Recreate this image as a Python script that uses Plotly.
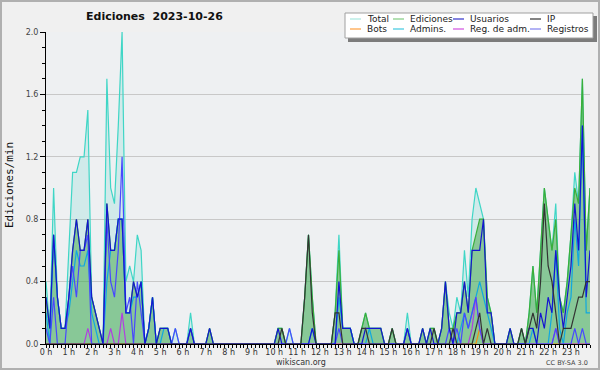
import plotly.graph_objects as go

# 10-minute slots of the day (0..143); every 6th slot is an hour mark
slots = list(range(144))
hour_slots = list(range(0, 144, 6))
hour_labels = [f"{h} h" for h in range(24)]
y_ticks = [0.0, 0.4, 0.8, 1.2, 1.6, 2.0]
y_labels = ["0.0", "0.4", "0.8", "1.2", "1.6", "2.0"]

total = [
    0.4, 0.1, 1.0, 0.3, 0.1, 0.1, 0.6, 1.1, 1.1, 1.2, 1.2, 1.5,
    0.3, 0.2, 0.1, 0.0, 1.7, 1.0, 0.9, 1.4, 2.0, 0.4, 0.5, 0.4,
    0.7, 0.6, 0.0, 0.1, 0.3, 0.0, 0.1, 0.1, 0.1, 0.0, 0.1, 0.0,
    0.0, 0.0, 0.2, 0.0, 0.0, 0.0, 0.0, 0.1, 0.0, 0.0, 0.0, 0.0,
    0.0, 0.0, 0.0, 0.0, 0.0, 0.0, 0.0, 0.0, 0.0, 0.0, 0.0, 0.0,
    0.0, 0.1, 0.1, 0.0, 0.1, 0.0, 0.0, 0.0, 0.3, 0.7, 0.3, 0.0,
    0.0, 0.0, 0.0, 0.0, 0.2, 0.7, 0.1, 0.1, 0.1, 0.0, 0.0, 0.1,
    0.2, 0.1, 0.1, 0.1, 0.1, 0.0, 0.0, 0.1, 0.0, 0.0, 0.0, 0.2,
    0.0, 0.0, 0.0, 0.1, 0.0, 0.1, 0.1, 0.0, 0.1, 0.4, 0.2, 0.1,
    0.3, 0.2, 0.6, 0.3, 0.8, 1.0, 0.9, 0.8, 0.3, 0.2, 0.0, 0.0,
    0.0, 0.0, 0.1, 0.0, 0.0, 0.1, 0.0, 0.2, 0.5, 0.2, 0.6, 1.0,
    0.8, 0.6, 0.9, 0.3, 0.2, 0.4, 0.7, 1.1, 0.9, 1.7, 0.6, 1.0,
]
ediciones = [
    0.3, 0.1, 0.7, 0.3, 0.1, 0.1, 0.3, 0.6, 0.8, 0.6, 0.6, 0.8,
    0.3, 0.2, 0.1, 0.0, 0.9, 0.6, 0.6, 0.8, 0.8, 0.2, 0.2, 0.4,
    0.3, 0.4, 0.0, 0.1, 0.3, 0.0, 0.1, 0.1, 0.1, 0.0, 0.0, 0.0,
    0.0, 0.0, 0.1, 0.0, 0.0, 0.0, 0.0, 0.1, 0.0, 0.0, 0.0, 0.0,
    0.0, 0.0, 0.0, 0.0, 0.0, 0.0, 0.0, 0.0, 0.0, 0.0, 0.0, 0.0,
    0.0, 0.1, 0.1, 0.0, 0.0, 0.0, 0.0, 0.0, 0.3, 0.7, 0.3, 0.0,
    0.0, 0.0, 0.0, 0.0, 0.2, 0.6, 0.1, 0.1, 0.1, 0.0, 0.0, 0.1,
    0.2, 0.1, 0.1, 0.1, 0.1, 0.0, 0.0, 0.1, 0.0, 0.0, 0.0, 0.1,
    0.0, 0.0, 0.0, 0.1, 0.0, 0.1, 0.1, 0.0, 0.1, 0.4, 0.1, 0.1,
    0.2, 0.2, 0.4, 0.2, 0.6, 0.7, 0.8, 0.8, 0.3, 0.2, 0.0, 0.0,
    0.0, 0.0, 0.1, 0.0, 0.0, 0.1, 0.0, 0.2, 0.5, 0.2, 0.6, 1.0,
    0.8, 0.6, 0.8, 0.3, 0.2, 0.4, 0.7, 1.0, 0.9, 1.7, 0.6, 1.0,
]
usuarios = [
    0.3, 0.1, 0.7, 0.3, 0.1, 0.1, 0.3, 0.6, 0.8, 0.6, 0.6, 0.8,
    0.3, 0.2, 0.1, 0.0, 0.9, 0.6, 0.6, 0.8, 0.8, 0.2, 0.2, 0.4,
    0.3, 0.4, 0.0, 0.1, 0.3, 0.0, 0.1, 0.1, 0.1, 0.0, 0.0, 0.0,
    0.0, 0.0, 0.1, 0.0, 0.0, 0.0, 0.0, 0.1, 0.0, 0.0, 0.0, 0.0,
    0.0, 0.0, 0.0, 0.0, 0.0, 0.0, 0.0, 0.0, 0.0, 0.0, 0.0, 0.0,
    0.0, 0.1, 0.0, 0.0, 0.0, 0.0, 0.0, 0.0, 0.0, 0.0, 0.1, 0.0,
    0.0, 0.0, 0.0, 0.0, 0.0, 0.4, 0.1, 0.1, 0.1, 0.0, 0.0, 0.0,
    0.1, 0.1, 0.1, 0.1, 0.1, 0.0, 0.0, 0.0, 0.0, 0.0, 0.0, 0.1,
    0.0, 0.0, 0.0, 0.1, 0.0, 0.1, 0.0, 0.0, 0.1, 0.4, 0.1, 0.0,
    0.2, 0.2, 0.4, 0.2, 0.6, 0.6, 0.6, 0.8, 0.2, 0.2, 0.0, 0.0,
    0.0, 0.0, 0.1, 0.0, 0.0, 0.0, 0.0, 0.1, 0.1, 0.0, 0.2, 0.1,
    0.3, 0.2, 0.6, 0.3, 0.1, 0.3, 0.5, 0.9, 0.6, 1.4, 0.3, 0.6,
]
ip = [
    0.0, 0.0, 0.0, 0.0, 0.0, 0.0, 0.0, 0.0, 0.0, 0.0, 0.0, 0.0,
    0.0, 0.0, 0.0, 0.0, 0.0, 0.0, 0.0, 0.0, 0.0, 0.0, 0.0, 0.0,
    0.0, 0.0, 0.0, 0.0, 0.0, 0.0, 0.0, 0.0, 0.0, 0.0, 0.0, 0.0,
    0.0, 0.0, 0.0, 0.0, 0.0, 0.0, 0.0, 0.0, 0.0, 0.0, 0.0, 0.0,
    0.0, 0.0, 0.0, 0.0, 0.0, 0.0, 0.0, 0.0, 0.0, 0.0, 0.0, 0.0,
    0.0, 0.0, 0.1, 0.0, 0.0, 0.0, 0.0, 0.0, 0.3, 0.7, 0.2, 0.0,
    0.0, 0.0, 0.0, 0.0, 0.2, 0.2, 0.0, 0.0, 0.0, 0.0, 0.0, 0.1,
    0.1, 0.0, 0.0, 0.0, 0.0, 0.0, 0.0, 0.1, 0.0, 0.0, 0.0, 0.0,
    0.0, 0.0, 0.0, 0.0, 0.0, 0.0, 0.1, 0.0, 0.0, 0.0, 0.0, 0.1,
    0.0, 0.0, 0.0, 0.0, 0.0, 0.1, 0.2, 0.0, 0.1, 0.0, 0.0, 0.0,
    0.0, 0.0, 0.0, 0.0, 0.0, 0.1, 0.0, 0.1, 0.2, 0.1, 0.4, 0.9,
    0.5, 0.4, 0.2, 0.0, 0.1, 0.1, 0.1, 0.2, 0.3, 0.3, 0.4, 0.4,
]
bots = [
    0.0, 0.0, 0.0, 0.0, 0.0, 0.0, 0.0, 0.0, 0.0, 0.0, 0.0, 0.0,
    0.0, 0.0, 0.0, 0.0, 0.0, 0.0, 0.0, 0.0, 0.0, 0.0, 0.0, 0.0,
    0.0, 0.0, 0.0, 0.0, 0.0, 0.0, 0.0, 0.0, 0.0, 0.0, 0.0, 0.0,
    0.0, 0.0, 0.0, 0.0, 0.0, 0.0, 0.0, 0.0, 0.0, 0.0, 0.0, 0.0,
    0.0, 0.0, 0.0, 0.0, 0.0, 0.0, 0.0, 0.0, 0.0, 0.0, 0.0, 0.0,
    0.0, 0.0, 0.0, 0.0, 0.0, 0.0, 0.0, 0.0, 0.0, 0.0, 0.0, 0.0,
    0.0, 0.0, 0.0, 0.0, 0.0, 0.0, 0.0, 0.0, 0.0, 0.0, 0.0, 0.0,
    0.0, 0.0, 0.0, 0.0, 0.0, 0.0, 0.0, 0.0, 0.0, 0.0, 0.0, 0.0,
    0.0, 0.0, 0.0, 0.0, 0.0, 0.0, 0.0, 0.0, 0.0, 0.0, 0.0, 0.0,
    0.0, 0.0, 0.0, 0.0, 0.0, 0.0, 0.1, 0.0, 0.0, 0.0, 0.0, 0.0,
    0.0, 0.0, 0.0, 0.0, 0.0, 0.0, 0.0, 0.0, 0.0, 0.0, 0.0, 0.0,
    0.0, 0.0, 0.0, 0.0, 0.0, 0.0, 0.0, 0.0, 0.0, 0.0, 0.0, 0.0,
]
admins = [
    0.2, 0.0, 0.7, 0.3, 0.1, 0.1, 0.2, 0.4, 0.6, 0.5, 0.5, 0.6,
    0.2, 0.1, 0.0, 0.0, 0.4, 0.6, 0.6, 0.8, 0.8, 0.2, 0.2, 0.3,
    0.3, 0.4, 0.0, 0.1, 0.3, 0.0, 0.0, 0.1, 0.1, 0.0, 0.0, 0.0,
    0.0, 0.0, 0.0, 0.0, 0.0, 0.0, 0.0, 0.0, 0.0, 0.0, 0.0, 0.0,
    0.0, 0.0, 0.0, 0.0, 0.0, 0.0, 0.0, 0.0, 0.0, 0.0, 0.0, 0.0,
    0.0, 0.0, 0.0, 0.0, 0.0, 0.0, 0.0, 0.0, 0.0, 0.0, 0.1, 0.0,
    0.0, 0.0, 0.0, 0.0, 0.0, 0.3, 0.1, 0.1, 0.1, 0.0, 0.0, 0.0,
    0.0, 0.1, 0.0, 0.0, 0.0, 0.0, 0.0, 0.0, 0.0, 0.0, 0.0, 0.0,
    0.0, 0.0, 0.0, 0.0, 0.0, 0.0, 0.0, 0.0, 0.0, 0.0, 0.0, 0.0,
    0.0, 0.1, 0.2, 0.1, 0.2, 0.3, 0.4, 0.3, 0.2, 0.1, 0.0, 0.0,
    0.0, 0.0, 0.0, 0.0, 0.0, 0.0, 0.0, 0.0, 0.1, 0.0, 0.0, 0.0,
    0.0, 0.2, 0.6, 0.1, 0.0, 0.2, 0.3, 0.8, 0.5, 1.4, 0.2, 0.2,
]
reg_adm = [
    0.0, 0.0, 0.0, 0.0, 0.0, 0.0, 0.0, 0.0, 0.0, 0.0, 0.0, 0.1,
    0.0, 0.0, 0.0, 0.0, 0.0, 0.1, 0.0, 0.0, 0.2, 0.0, 0.0, 0.0,
    0.0, 0.0, 0.0, 0.0, 0.0, 0.0, 0.0, 0.0, 0.0, 0.0, 0.0, 0.0,
    0.0, 0.0, 0.0, 0.0, 0.0, 0.0, 0.0, 0.0, 0.0, 0.0, 0.0, 0.0,
    0.0, 0.0, 0.0, 0.0, 0.0, 0.0, 0.0, 0.0, 0.0, 0.0, 0.0, 0.0,
    0.0, 0.0, 0.0, 0.0, 0.0, 0.0, 0.0, 0.0, 0.0, 0.0, 0.0, 0.0,
    0.0, 0.0, 0.0, 0.0, 0.0, 0.0, 0.0, 0.0, 0.0, 0.0, 0.0, 0.0,
    0.0, 0.0, 0.0, 0.0, 0.0, 0.0, 0.0, 0.0, 0.0, 0.0, 0.0, 0.0,
    0.0, 0.0, 0.0, 0.0, 0.0, 0.0, 0.0, 0.0, 0.0, 0.0, 0.0, 0.0,
    0.0, 0.0, 0.0, 0.0, 0.1, 0.3, 0.1, 0.0, 0.0, 0.0, 0.0, 0.0,
    0.0, 0.0, 0.0, 0.0, 0.0, 0.0, 0.0, 0.0, 0.0, 0.0, 0.0, 0.0,
    0.0, 0.0, 0.1, 0.0, 0.0, 0.0, 0.0, 0.0, 0.0, 0.0, 0.0, 0.0,
]
registros = [
    0.1, 0.0, 0.3, 0.0, 0.0, 0.0, 0.3, 0.5, 0.3, 0.6, 0.6, 0.7,
    0.0, 0.0, 0.0, 0.0, 0.8, 0.4, 0.3, 0.6, 1.2, 0.2, 0.3, 0.0,
    0.4, 0.2, 0.0, 0.0, 0.0, 0.0, 0.0, 0.0, 0.0, 0.0, 0.1, 0.0,
    0.0, 0.0, 0.1, 0.0, 0.0, 0.0, 0.0, 0.0, 0.0, 0.0, 0.0, 0.0,
    0.0, 0.0, 0.0, 0.0, 0.0, 0.0, 0.0, 0.0, 0.0, 0.0, 0.0, 0.0,
    0.0, 0.0, 0.0, 0.0, 0.1, 0.0, 0.0, 0.0, 0.0, 0.0, 0.0, 0.0,
    0.0, 0.0, 0.0, 0.0, 0.0, 0.1, 0.0, 0.0, 0.0, 0.0, 0.0, 0.0,
    0.0, 0.0, 0.0, 0.0, 0.0, 0.0, 0.0, 0.0, 0.0, 0.0, 0.0, 0.1,
    0.0, 0.0, 0.0, 0.0, 0.0, 0.0, 0.0, 0.0, 0.0, 0.0, 0.1, 0.0,
    0.1, 0.0, 0.2, 0.1, 0.2, 0.3, 0.1, 0.0, 0.0, 0.0, 0.0, 0.0,
    0.0, 0.0, 0.0, 0.0, 0.0, 0.0, 0.0, 0.0, 0.0, 0.0, 0.0, 0.0,
    0.0, 0.0, 0.1, 0.0, 0.0, 0.0, 0.0, 0.1, 0.0, 0.1, 0.0, 0.0,
]

W, H = 600, 370
L, R, T, B = 46, 10, 32, 26
PW, PH = W - L - R, H - T - B


def fx(px):
    return (px - L) / PW


def fy(py):
    return (H - B - py) / PH


fig = go.Figure()
fig.add_trace(go.Scatter(x=slots, y=total, mode="lines", name="Total",
                         line=dict(color="#3fd6c6", width=1.2),
                         fill="tozeroy", fillcolor="rgba(64,208,192,0.16)"))
fig.add_trace(go.Scatter(x=slots, y=ediciones, mode="lines", name="Ediciones",
                         line=dict(color="#3aae3a", width=1.2),
                         fill="tozeroy", fillcolor="rgba(63,166,68,0.5)"))
line_series = [
    ("Bots", bots, "#f09010"),
    ("Admins.", admins, "#10a8e0"),
    ("Reg. de adm.", reg_adm, "#b040e0"),
    ("Registros", registros, "#4848ff"),
    ("Usuarios", usuarios, "#1515d0"),
    ("IP", ip, "#333333"),
]
for name, vals, color in line_series:
    fig.add_trace(go.Scatter(x=slots, y=vals, mode="lines", name=name,
                             line=dict(color=color, width=1.2)))

shapes = []
annotations = []

# outer border
shapes.append(dict(type="rect", xref="paper", yref="paper",
                   x0=fx(1), x1=fx(599), y0=fy(1), y1=fy(369),
                   line=dict(color="#b0b0b0", width=2), layer="above"))

# legend box with shadow
shapes.append(dict(type="rect", xref="paper", yref="paper",
                   x0=fx(348), x1=fx(597), y0=fy(16), y1=fy(42),
                   fillcolor="#7c7c7c", line=dict(width=0), layer="above"))
shapes.append(dict(type="rect", xref="paper", yref="paper",
                   x0=fx(345), x1=fx(593), y0=fy(13), y1=fy(38),
                   fillcolor="#ffffff", line=dict(color="#a0a0a0", width=1),
                   layer="above"))

legend_items = [
    ("Total", "#a8e8e0", 350, 19), ("Ediciones", "#80cc80", 393, 19),
    ("Usuarios", "#3333cc", 453, 19), ("IP", "#333333", 530, 19),
    ("Bots", "#ffa040", 350, 29), ("Admins.", "#40c8e0", 393, 29),
    ("Reg. de adm.", "#d050e0", 453, 29), ("Registros", "#8080ee", 530, 29),
]
for label, color, lx, ly in legend_items:
    shapes.append(dict(type="line", xref="paper", yref="paper",
                       x0=fx(lx), x1=fx(lx + 11), y0=fy(ly), y1=fy(ly),
                       line=dict(color=color, width=1.2), layer="above"))
    annotations.append(dict(xref="paper", yref="paper", x=fx(lx + 15), y=fy(ly),
                            xanchor="left", yanchor="middle", showarrow=False,
                            text=label,
                            font=dict(family="DejaVu Sans", size=9, color="#222")))

annotations.append(dict(xref="paper", yref="paper", x=fx(154), y=fy(17),
                        xanchor="center", yanchor="middle", showarrow=False,
                        text="<b>Ediciones\u00a0 2023-10-26</b>",
                        font=dict(family="DejaVu Sans", size=11, color="#111")))
annotations.append(dict(xref="paper", yref="paper", x=fx(9), y=fy(185),
                        xanchor="center", yanchor="middle", showarrow=False,
                        textangle=-90, text="Ediciones/min",
                        font=dict(family="DejaVu Sans Mono", size=11, color="#111")))
annotations.append(dict(xref="paper", yref="paper", x=fx(301), y=fy(362),
                        xanchor="center", yanchor="middle", showarrow=False,
                        text="wikiscan.org",
                        font=dict(family="DejaVu Sans", size=8, color="#333")))
annotations.append(dict(xref="paper", yref="paper", x=fx(590), y=fy(363),
                        xanchor="right", yanchor="middle", showarrow=False,
                        text="CC BY-SA 3.0",
                        font=dict(family="DejaVu Sans", size=6.5, color="#444")))

fig.update_layout(
    width=W, height=H,
    margin=dict(l=L, r=R, t=T, b=B, pad=0),
    paper_bgcolor="#f0f0f0", plot_bgcolor="#eef0f2",
    showlegend=False, hovermode=False,
    shapes=shapes, annotations=annotations,
    xaxis=dict(range=[0, 143], tickmode="array", tickvals=hour_slots,
               ticktext=hour_labels, ticks="outside", ticklen=3,
               tickcolor="#000", showline=True, linecolor="#000", linewidth=1,
               showgrid=False, zeroline=False, ticklabelstandoff=-3,
               tickfont=dict(family="DejaVu Sans", size=8, color="#333"),
               minor=dict(tickmode="linear", tick0=0, dtick=1, ticklen=3,
                          ticks="outside", tickcolor="#000", showgrid=False)),
    yaxis=dict(range=[0, 2.0], tickmode="array", tickvals=y_ticks,
               ticktext=y_labels, ticks="outside", ticklen=5,
               tickcolor="#000", showline=True, linecolor="#000", linewidth=1,
               showgrid=True, gridcolor="#c8c8c8", gridwidth=1, zeroline=False,
               tickfont=dict(family="DejaVu Sans", size=8, color="#444"),
               minor=dict(tickmode="linear", tick0=0, dtick=0.1, ticklen=3,
                          ticks="outside", tickcolor="#000", showgrid=False)),
)

fig.write_html("out.html", config={"displayModeBar": False},
               post_script="document.body.style.margin='0';")
